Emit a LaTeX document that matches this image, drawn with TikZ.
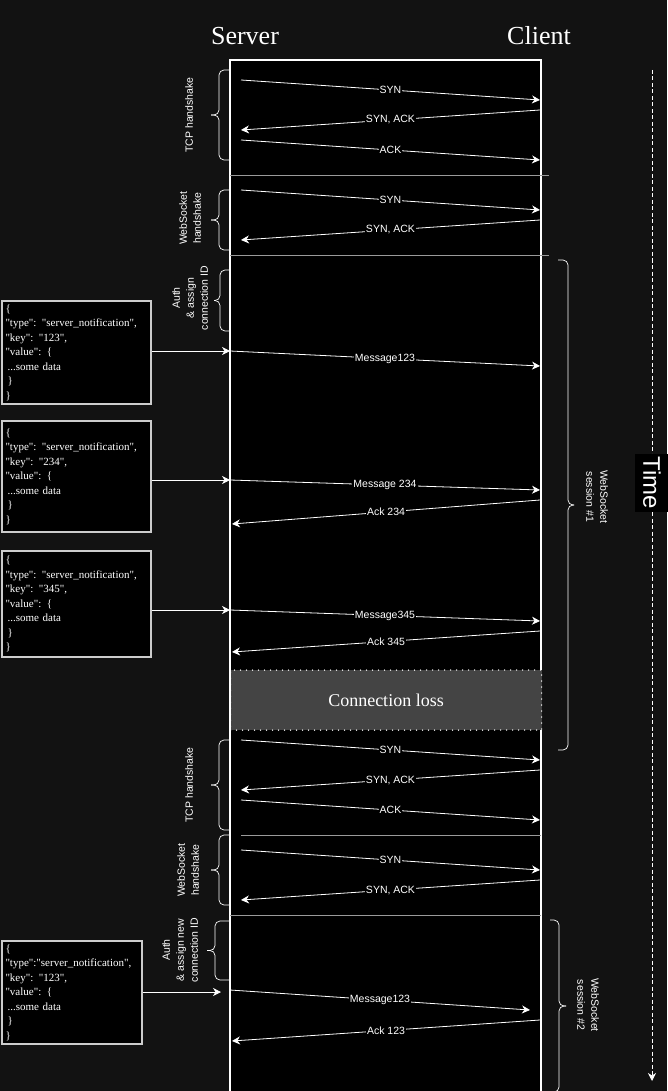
\documentclass[tikz,border=0pt]{standalone}
\usepackage{fontspec}
\setmainfont{Liberation Serif}
\setsansfont{Liberation Sans}
\usetikzlibrary{arrows.meta}

\definecolor{bgdark}{HTML}{121212}
\definecolor{lossgray}{HTML}{444444}
\definecolor{sepgray}{HTML}{9A9A9A}
\definecolor{jsongray}{HTML}{CCCCCC}

\newcommand{\jq}{\textquotedbl}

% end x, bar x, tip x, top y, bottom y
\newcommand{\sidebrace}[5]{%
    \draw[bracket] (#1,#4) -- (#2,#4) -- (#2,{(#4+#5)/2}) -- (#3,{(#4+#5)/2});
    \draw[bracket] (#1,#5) -- (#2,#5) -- (#2,{(#4+#5)/2}) -- (#3,{(#4+#5)/2});
}

\begin{document}
\begin{tikzpicture}[x=1pt, y=-1pt, text=white]
    \tikzstyle{every node}=[inner sep=0pt];
    \tikzstyle{msg}=[draw=white, line width=0.8pt, -{Stealth[length=8pt, width=8pt, inset=2.5pt]}];
    \tikzstyle{msglabel}=[fill=black, inner sep=1pt, font=\sffamily\fontsize{10.5}{12}\selectfont];
    \tikzstyle{json}=[draw=jsongray, line width=2pt, fill=black, anchor=north west, align=left, inner xsep=3.5pt, font=\fontsize{11}{14.5}\selectfont];
    \tikzstyle{phasesep}=[draw=sepgray, line width=0.7pt];
    \tikzstyle{bracket}=[draw=white, line width=0.7pt, rounded corners=5pt];
    \tikzstyle{phaselabel}=[align=center, font=\sffamily\fontsize{10.5}{14}\selectfont];
    \tikzstyle{actor}=[font=\fontsize{26}{30}\selectfont];

    \useasboundingbox (0,0) rectangle (667,1091);
    \fill[bgdark] (0,0) rectangle (667,1091);
    \draw[white, line width=1.2pt, fill=black] (230,60) rectangle (541,1100);

    \node[actor] (server) at (245,36) {Server};
    \node[actor] (client) at (539,36) {Client};

    % separators between phases
    \draw[phasesep] (230,175) -- (549,175);
    \draw[phasesep] (230,255) -- (549,255);
    \draw[phasesep] (241,835) -- (541,835);
    \draw[phasesep] (230,915) -- (541,915);

    % time axis
    \coordinate (timetop) at (652,70);
    \coordinate (timebot) at (652,1081);
    \draw[white, line width=0.9pt, dash pattern=on 4pt off 2.5pt, -{Stealth[length=8pt, width=8pt, inset=2.5pt]}] (timetop) -- (timebot);
    \node[fill=black, rotate=-90, inner xsep=3pt, inner ysep=8pt, font=\sffamily\fontsize{24}{26}\selectfont] (time) at (652,483) {Time};

    % left braces
    \sidebrace{229}{219}{211}{70}{160}
    \sidebrace{229}{219}{211}{190}{250}
    \sidebrace{229}{220}{214}{270}{331}
    \sidebrace{229}{219}{211}{740}{830}
    \sidebrace{229}{219}{211}{835}{905}
    \sidebrace{229}{215}{207}{921}{980}
    \node[phaselabel, rotate=90] (tcp1) at (189,115) {TCP handshake};
    \node[phaselabel, rotate=90] (ws1) at (190,218) {WebSocket\\handshake};
    \node[phaselabel, rotate=90] (auth1) at (190,298) {Auth\\\& assign\\connection ID};
    \node[phaselabel, rotate=90] (tcp2) at (189,785) {TCP handshake};
    \node[phaselabel, rotate=90] (ws2) at (188,870) {WebSocket\\handshake};
    \node[phaselabel, rotate=90] (auth2) at (180,950) {Auth\\\& assign new\\connection ID};

    % right braces
    \sidebrace{558}{568}{574}{260}{750}
    \sidebrace{550}{559}{566}{920}{1092}
    \node[phaselabel, rotate=-90] (session1) at (597,497) {WebSocket\\session \#1};
    \node[phaselabel, rotate=-90] (session2) at (588,1005) {WebSocket\\session \#2};

    % connection loss
    \node[fill=lossgray, draw=white, line width=1.5pt, line cap=round, dash pattern=on 0pt off 6pt,
          minimum width=311pt, minimum height=60pt, font=\fontsize{18}{22}\selectfont] (loss) at (386,700) {Connection loss};

    % notifications
    \node[json, text width=142pt, minimum height=103pt] (json1) at (1,300) {\{\\\jq type\jq: \jq server\_notification\jq,\\\jq key\jq: \jq 123\jq,\\\jq value\jq: \{\\\hspace{2pt}...some data\\\hspace{2pt}\}\\\}};
    \node[json, text width=142pt, minimum height=111pt] (json2) at (1,420) {\{\\\jq type\jq: \jq server\_notification\jq,\\\jq key\jq: \jq 234\jq,\\\jq value\jq: \{\\\hspace{2pt}...some data\\\hspace{2pt}\}\\\}};
    \node[json, text width=142pt, minimum height=106pt] (json3) at (1,550) {\{\\\jq type\jq: \jq server\_notification\jq,\\\jq key\jq: \jq 345\jq,\\\jq value\jq: \{\\\hspace{2pt}...some data\\\hspace{2pt}\}\\\}};
    \node[json, text width=133pt, minimum height=103pt] (json4) at (1,940) {\{\\\jq type\jq:\jq server\_notification\jq,\\\jq key\jq: \jq 123\jq,\\\jq value\jq: \{\\\hspace{2pt}...some data\\\hspace{2pt}\}\\\}};

    % message end points
    \coordinate (s1) at (241,80);    \coordinate (c1) at (540,100);
    \coordinate (c2) at (540,110);   \coordinate (s2) at (241,130);
    \coordinate (s3) at (241,140);   \coordinate (c3) at (540,160);
    \coordinate (s4) at (241,190);   \coordinate (c4) at (540,210);
    \coordinate (c5) at (540,220);   \coordinate (s5) at (241,240);
    \coordinate (s6) at (230,351);   \coordinate (c6) at (540,366);
    \coordinate (s7) at (230,480);   \coordinate (c7) at (540,490);
    \coordinate (c8) at (540,500);   \coordinate (s8) at (232,524);
    \coordinate (s9) at (230,610);   \coordinate (c9) at (540,621);
    \coordinate (c10) at (540,631);  \coordinate (s10) at (232,652);
    \coordinate (s11) at (241,740);  \coordinate (c11) at (540,760);
    \coordinate (c12) at (540,770);  \coordinate (s12) at (241,790);
    \coordinate (s13) at (241,800);  \coordinate (c13) at (540,820);
    \coordinate (s14) at (241,850);  \coordinate (c14) at (540,870);
    \coordinate (c15) at (540,880);  \coordinate (s15) at (241,900);
    \coordinate (in16) at (221,992);
    \coordinate (s16) at (230,990);  \coordinate (c16) at (530,1010);
    \coordinate (c17) at (540,1020); \coordinate (s17) at (232,1041);

    \path (json1.east |- s6) edge[msg] (s6);
    \path (json2.east |- s7) edge[msg] (s7);
    \path (json3.east |- s9) edge[msg] (s9);
    \path (json4.east |- in16) edge[msg] (in16);

    \path (s1) edge[msg] node[msglabel] {SYN} (c1);
    \path (c2) edge[msg] node[msglabel] {SYN, ACK} (s2);
    \path (s3) edge[msg] node[msglabel] {ACK} (c3);
    \path (s4) edge[msg] node[msglabel] {SYN} (c4);
    \path (c5) edge[msg] node[msglabel] {SYN, ACK} (s5);
    \path (s6) edge[msg] node[msglabel] {Message123} (c6);
    \path (s7) edge[msg] node[msglabel] {Message 234} (c7);
    \path (c8) edge[msg] node[msglabel] {Ack 234} (s8);
    \path (s9) edge[msg] node[msglabel] {Message345} (c9);
    \path (c10) edge[msg] node[msglabel] {Ack 345} (s10);
    \path (s11) edge[msg] node[msglabel] {SYN} (c11);
    \path (c12) edge[msg] node[msglabel] {SYN, ACK} (s12);
    \path (s13) edge[msg] node[msglabel] {ACK} (c13);
    \path (s14) edge[msg] node[msglabel] {SYN} (c14);
    \path (c15) edge[msg] node[msglabel] {SYN, ACK} (s15);
    \path (s16) edge[msg] node[msglabel] {Message123} (c16);
    \path (c17) edge[msg] node[msglabel] {Ack 123} (s17);
\end{tikzpicture}
\end{document}
